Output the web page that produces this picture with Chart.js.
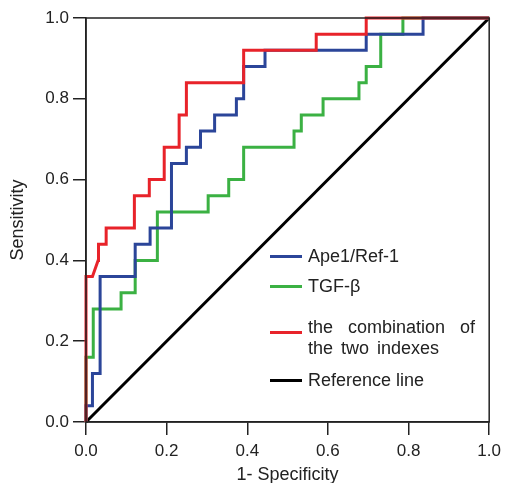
<!DOCTYPE html>
<html>
<head>
<meta charset="utf-8">
<script src="https://cdn.jsdelivr.net/npm/chart.js@4/dist/chart.umd.min.js"></script>
<style>
  html, body { margin: 0; padding: 0; background: #fff; }
  #wrap { position: relative; width: 507px; height: 483px; }
  #legend { position: absolute; left: 270px; top: 0; font-family: "Liberation Sans", Arial, sans-serif; font-size: 18px; color: #222; }
  .item { position: absolute; left: 0; white-space: nowrap; }
  .item span.sw { position: absolute; left: 0; top: -1.5px; width: 32px; height: 3px; }
  .item span.tx { position: absolute; left: 38px; top: -10px; line-height: 20px; }
</style>
</head>
<body>
<div id="wrap">
  <canvas id="roc" width="507" height="483"></canvas>
  <div id="legend"></div>
</div>
<script>
// ROC curves (x = 1 - specificity, y = sensitivity)
const apeX = [0, 0, 0.016, 0.016, 0.035, 0.035, 0.122, 0.122, 0.159, 0.159, 0.212, 0.212, 0.249, 0.249, 0.284, 0.284, 0.319, 0.319, 0.373, 0.373, 0.391, 0.391, 0.444, 0.444, 0.695, 0.695, 0.836, 0.836, 1];
const apeY = [0, 0.04, 0.04, 0.12, 0.12, 0.36, 0.36, 0.44, 0.44, 0.48, 0.48, 0.64, 0.64, 0.68, 0.68, 0.72, 0.72, 0.76, 0.76, 0.80, 0.80, 0.88, 0.88, 0.92, 0.92, 0.96, 0.96, 1.0, 1.0];

const tgfX = [0, 0, 0.018, 0.018, 0.087, 0.087, 0.122, 0.122, 0.177, 0.177, 0.303, 0.303, 0.354, 0.354, 0.391, 0.391, 0.516, 0.516, 0.534, 0.534, 0.588, 0.588, 0.677, 0.677, 0.695, 0.695, 0.731, 0.731, 0.786, 0.786, 1];
const tgfY = [0, 0.16, 0.16, 0.28, 0.28, 0.32, 0.32, 0.40, 0.40, 0.52, 0.52, 0.56, 0.56, 0.60, 0.60, 0.68, 0.68, 0.72, 0.72, 0.76, 0.76, 0.80, 0.80, 0.84, 0.84, 0.88, 0.88, 0.96, 0.96, 1.0, 1.0];

const combX = [0, 0, 0.016, 0.030, 0.031, 0.05, 0.05, 0.12, 0.12, 0.157, 0.157, 0.194, 0.194, 0.231, 0.231, 0.249, 0.249, 0.391, 0.391, 0.571, 0.571, 0.695, 0.695, 1];
const combY = [0, 0.36, 0.36, 0.40, 0.44, 0.44, 0.48, 0.48, 0.56, 0.56, 0.60, 0.60, 0.68, 0.68, 0.76, 0.76, 0.84, 0.84, 0.92, 0.92, 0.96, 0.96, 1.0, 1.0];

const refX = [0, 1];
const refY = [0, 1];

const tickValues = [0, 0.2, 0.4, 0.6, 0.8, 1.0];

const names  = ["Ape1/Ref-1", "TGF-\u03B2", "the combination of\nthe two indexes", "Reference line"];
const colors = ["#2b4599", "#3bb143", "#e8232a", "#000000"];

function pts(xs, ys) { return xs.map((x, i) => ({ x: x, y: ys[i] })); }

const font = { family: '"Liberation Sans", Arial, sans-serif', size: 17 };
const titleFont = { family: '"Liberation Sans", Arial, sans-serif', size: 18 };

// frame around the plot area
const framePlugin = {
  id: 'frame',
  afterDraw(chart) {
    const a = chart.chartArea, c = chart.ctx;
    c.save();
    c.strokeStyle = '#222';
    c.lineWidth = 1.5;
    c.strokeRect(a.left, a.top, a.right - a.left, a.bottom - a.top);
    c.restore();
  }
};

const ds = (label, data, color, order) => ({
  label: label, data: data, borderColor: color, backgroundColor: color,
  borderWidth: 3, pointRadius: 0, showLine: true, fill: false, tension: 0,
  clip: false, order: order
});

new Chart(document.getElementById('roc'), {
  type: 'scatter',
  data: {
    datasets: [
      ds(names[0], pts(apeX, apeY), colors[0], 1),
      ds(names[1], pts(tgfX, tgfY), colors[1], 2),
      ds(names[2], pts(combX, combY), colors[2], 0),
      ds(names[3], pts(refX, refY), colors[3], 3)
    ]
  },
  options: {
    responsive: false,
    animation: false,
    layout: { padding: { left: 0, right: 17, top: 18, bottom: 0 } },
    plugins: { legend: { display: false }, tooltip: { enabled: false } },
    scales: {
      x: {
        type: 'linear', min: 0, max: 1,
        afterBuildTicks: s => { s.ticks = tickValues.map(v => ({ value: v })); },
        afterFit: s => { s.height = 61; },
        ticks: { font: font, color: '#222', padding: 6, callback: v => v.toFixed(1), maxRotation: 0 },
        grid: { display: true, drawOnChartArea: false, drawTicks: true, tickLength: 13, color: '#222', lineWidth: 1.5 },
        border: { display: true, color: '#222', width: 1.5 },
        title: { display: true, text: '1- Specificity', font: titleFont, color: '#222', padding: { top: 0, bottom: -3 } }
      },
      y: {
        type: 'linear', min: 0, max: 1,
        afterBuildTicks: s => { s.ticks = tickValues.map(v => ({ value: v })); },
        afterFit: s => { s.width = 86; },
        ticks: { font: font, color: '#222', padding: 4, callback: v => v.toFixed(1) },
        grid: { display: true, drawOnChartArea: false, drawTicks: true, tickLength: 13, color: '#222', lineWidth: 1.5 },
        border: { display: true, color: '#222', width: 1.5 },
        title: { display: true, text: 'Sensitivity', font: titleFont, color: '#222', padding: { top: 7, bottom: 0 } }
      }
    }
  },
  plugins: [framePlugin]
});

// legend inside the plot, lower right
const legend = document.getElementById('legend');
const rowY = [256, 286, 332, 380];
names.forEach((n, i) => {
  const item = document.createElement('div');
  item.className = 'item';
  item.style.top = rowY[i] + 'px';
  const sw = document.createElement('span');
  sw.className = 'sw';
  sw.style.background = colors[i];
  const tx = document.createElement('span');
  tx.className = 'tx';
  if (i === 2) {
    const lines = n.split('\n');
    tx.style.top = '-15px';
    tx.style.lineHeight = '21px';
    tx.innerHTML = '<span style="word-spacing:10px">' + lines[0] + '</span><br><span style="word-spacing:3px">' + lines[1] + '</span>';
  } else {
    tx.textContent = n;
  }
  item.append(sw, tx);
  legend.appendChild(item);
});
</script>
</body>
</html>
